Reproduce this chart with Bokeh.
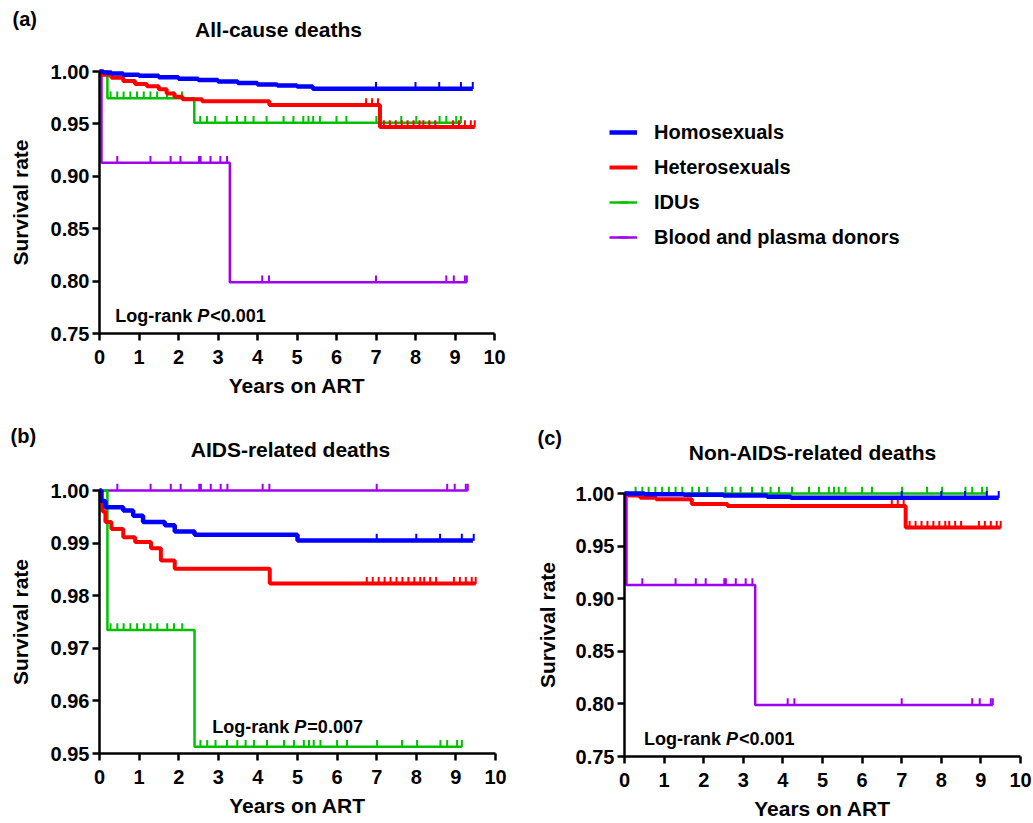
import numpy as np
from bokeh.plotting import figure
from bokeh.layouts import column, row
from bokeh.models import Range1d, FixedTicker, NumeralTickFormatter, Label, Legend, LegendItem
from bokeh.embed import file_html
from bokeh.resources import INLINE

FONT = "Liberation Sans"

groups = ["Homosexuals", "Heterosexuals", "IDUs", "Blood and plasma donors"]
colors = ["#0000FF", "#FF0000", "#00C000", "#A000F0"]
x_ticks = [0, 1, 2, 3, 4, 5, 6, 7, 8, 9, 10]
y_ticks_wide = [0.75, 0.80, 0.85, 0.90, 0.95, 1.00]
y_ticks_narrow = [0.95, 0.96, 0.97, 0.98, 0.99, 1.00]

# ---- (a) All-cause deaths: step times (years) / survival after each step
a_homo_t = [0, 0.1, 0.3, 0.6, 1.0, 1.5, 2.0, 2.5, 3.0, 3.5, 4.0, 4.5, 5.0, 5.4, 9.45]
a_homo_s = [1.0, 0.999, 0.998, 0.997, 0.996, 0.9945, 0.993, 0.992, 0.9905, 0.989, 0.9876, 0.9866, 0.9857, 0.9835, 0.9835]
a_hetero_t = [0, 0.05, 0.3, 0.6, 0.9, 1.2, 1.5, 1.7, 1.9, 2.1, 2.6, 4.3, 7.1, 9.5]
a_hetero_s = [1.0, 0.997, 0.994, 0.991, 0.988, 0.986, 0.983, 0.979, 0.976, 0.9735, 0.9715, 0.968, 0.947, 0.947]
a_idu_t = [0, 0.2, 2.4, 9.15]
a_idu_s = [1.0, 0.9745, 0.9512, 0.9512]
a_blood_t = [0, 0.05, 3.3, 9.3]
a_blood_s = [1.0, 0.913, 0.799, 0.799]

# ---- (b) AIDS-related deaths
b_homo_t = [0, 0.05, 0.15, 0.6, 0.85, 1.1, 1.65, 1.9, 2.4, 5.0, 9.43]
b_homo_s = [1.0, 0.998, 0.9968, 0.9962, 0.9952, 0.994, 0.9934, 0.9922, 0.9916, 0.9905, 0.9905]
b_hetero_t = [0, 0.03, 0.08, 0.15, 0.3, 0.6, 0.9, 1.3, 1.55, 1.9, 4.3, 9.5]
b_hetero_s = [1.0, 0.998, 0.996, 0.994, 0.9927, 0.9911, 0.9902, 0.989, 0.9867, 0.9851, 0.9823, 0.9823]
b_idu_t = [0, 0.2, 2.4, 9.15]
b_idu_s = [1.0, 0.9735, 0.9513, 0.9513]
b_blood_t = [0, 9.3]
b_blood_s = [1.0, 1.0]

# ---- (c) Non-AIDS-related deaths
c_homo_t = [0, 0.5, 1.5, 2.5, 3.6, 4.2, 9.45]
c_homo_s = [1.0, 0.9993, 0.9987, 0.998, 0.997, 0.996, 0.996]
c_hetero_t = [0, 0.1, 0.4, 0.8, 1.7, 2.6, 7.1, 9.5]
c_hetero_s = [1.0, 0.998, 0.996, 0.9945, 0.990, 0.988, 0.9676, 0.9676]
c_idu_t = [0, 9.15]
c_idu_s = [1.0, 1.0]
c_blood_t = [0, 0.05, 3.3, 9.3]
c_blood_s = [1.0, 0.913, 0.799, 0.799]

# ---- censoring times (years), shared by the three panels
homo_cens = [7.0, 8.0, 8.6, 9.15, 9.45]
hetero_cens = [6.75, 6.9, 7.05, 7.2, 7.35, 7.5, 7.65, 7.8, 7.95, 8.1, 8.2, 8.35, 8.5,
               8.95, 9.1, 9.25, 9.4, 9.5]
idu_cens = [0.28, 0.45, 0.61, 0.78, 0.95, 1.12, 1.29, 1.46, 1.71, 1.88, 2.09, 2.55, 2.72,
            2.93, 3.22, 3.48, 3.69, 3.90, 4.23, 4.66, 4.91, 5.16, 5.29, 5.41, 5.58, 6.0,
            6.25, 7.01, 7.64, 8.02, 8.61, 8.78, 9.03, 9.15]
blood_cens = [0.45, 1.29, 1.8, 2.05, 2.52, 2.56, 2.81, 3.06, 3.23, 4.12, 4.29, 7.0,
              8.78, 8.97, 9.25, 9.3]

line_widths = [4.5, 4.0, 2.5, 2.5]
draw_order = [3, 2, 1, 0]


def levels_at(t, s, cens):
    idx = np.searchsorted(np.asarray(t), np.asarray(cens), side="right") - 1
    return np.asarray(s)[idx]


def make_panel(series, y0, yticks, W, H, x0_px, x10_px, ytop_px, ybot_px, ylab_standoff):
    # The frame covers the whole figure; axes sit at fixed data locations inside it,
    # so that titles, panel letters and the legend are never clipped.
    xs = (x10_px - x0_px) / 10.0
    ys = (ybot_px - ytop_px) / (1.0 - y0)
    x_rng = Range1d(-x0_px / xs, (W - x0_px) / xs)
    y_rng = Range1d(y0 - (H - ybot_px) / ys, 1.0 + ytop_px / ys)
    p = figure(frame_width=W, frame_height=H, min_border=0,
               min_border_left=0, min_border_right=0, min_border_top=0, min_border_bottom=0,
               x_range=x_rng, y_range=y_rng,
               output_backend="svg", toolbar_location=None)
    p.outline_line_color = None
    p.xgrid.visible = False
    p.ygrid.visible = False
    p.background_fill_color = "white"
    p.border_fill_color = "white"

    for ax in (p.xaxis[0], p.yaxis[0]):
        ax.axis_line_width = 2.5
        ax.axis_line_color = "black"
        ax.major_tick_line_width = 2.5
        ax.major_tick_line_color = "black"
        ax.major_tick_out = 7
        ax.major_tick_in = 0
        ax.minor_tick_line_color = None
        ax.major_label_text_font = FONT
        ax.major_label_text_font_style = "bold"
        ax.major_label_text_font_size = "20px"
        ax.major_label_text_color = "black"
        ax.axis_label_text_font = FONT
        ax.axis_label_text_font_style = "bold"
        ax.axis_label_text_font_size = "21px"
        ax.axis_label_text_color = "black"

    p.xaxis.fixed_location = y0
    p.xaxis.ticker = FixedTicker(ticks=x_ticks)
    p.xaxis.bounds = (0, 10)
    p.xaxis.axis_label = "Years on ART"
    p.xaxis.major_label_standoff = 9
    p.xaxis.axis_label_standoff = 7

    p.yaxis.fixed_location = 0
    p.yaxis.ticker = FixedTicker(ticks=yticks)
    p.yaxis.formatter = NumeralTickFormatter(format="0.00")
    p.yaxis.bounds = (y0, 1.0)
    p.yaxis.axis_label = "Survival rate"
    p.yaxis.major_label_standoff = 3
    p.yaxis.axis_label_standoff = ylab_standoff

    dy = 3.2 / ys
    renderers = {}
    for i in draw_order:
        t, s, cens = series[i]
        r_line = p.step(t, s, mode="after", line_color=colors[i], line_width=line_widths[i])
        lv = levels_at(t, s, cens)
        r_c = p.scatter(cens, lv + dy, marker="dash", angle=np.pi / 2, size=7,
                        line_color=colors[i], line_width=2, fill_color=colors[i])
        renderers[i] = (r_line, r_c)
    return p, renderers


def add_text(p, text, x, y, dx, dy, size="20px", align="left", style="bold"):
    p.add_layout(Label(x=x, y=y, x_offset=dx, y_offset=dy, text=text,
                       text_font=FONT, text_font_style=style, text_font_size=size,
                       text_color="black", text_align=align, text_baseline="middle"))


def add_logrank(p, x, y, tail):
    add_text(p, "Log-rank", x, y, 0, 0, size="18px")
    add_text(p, "P", x, y, 82, 0, size="18px", style="bold italic")
    add_text(p, tail, x, y, 95, 0, size="18px")


# ---------------- panel (a)
series_a = [(a_homo_t, a_homo_s, homo_cens), (a_hetero_t, a_hetero_s, hetero_cens),
            (a_idu_t, a_idu_s, idu_cens), (a_blood_t, a_blood_s, blood_cens)]
pa, rend_a = make_panel(series_a, 0.75, y_ticks_wide, 1032, 404, 99, 494, 71, 333, 16)
add_text(pa, "(a)", 0, 1.0, -87, 53, size="20px")
add_text(pa, "All-cause deaths", 0, 1.0, 179, 42, size="21px", align="center")
add_logrank(pa, 0.4, 0.767, "<0.001")

legend = Legend(items=[LegendItem(label=groups[i], renderers=list(rend_a[i])) for i in range(4)],
                location=(609, 155), orientation="vertical",
                glyph_width=28, glyph_height=24, label_height=24, label_width=20,
                spacing=11, padding=0, margin=0, label_standoff=17,
                border_line_color=None, background_fill_alpha=0,
                label_text_font=FONT, label_text_font_style="bold",
                label_text_font_size="20px", label_text_color="black")
pa.add_layout(legend)

# ---------------- panel (b)
series_b = [(b_homo_t, b_homo_s, homo_cens), (b_hetero_t, b_hetero_s, hetero_cens),
            (b_idu_t, b_idu_s, idu_cens), (b_blood_t, b_blood_s, blood_cens)]
pb, _ = make_panel(series_b, 0.95, y_ticks_narrow, 520, 418, 99, 495, 86, 349, 16)
add_text(pb, "(b)", 0, 1.0, -89, 55, size="20px")
add_text(pb, "AIDS-related deaths", 0, 1.0, 191, 41, size="21px", align="center")
add_logrank(pb, 2.85, 0.955, "=0.007")

# ---------------- panel (c)
series_c = [(c_homo_t, c_homo_s, homo_cens), (c_hetero_t, c_hetero_s, hetero_cens),
            (c_idu_t, c_idu_s, idu_cens), (c_blood_t, c_blood_s, blood_cens)]
pc, _ = make_panel(series_c, 0.75, y_ticks_wide, 512, 418, 104, 500, 89, 352, 14)
add_text(pc, "(c)", 0, 1.0, -87, 56, size="20px")
add_text(pc, "Non-AIDS-related deaths", 0, 1.0, 188, 41, size="21px", align="center")
add_logrank(pc, 0.49, 0.767, "<0.001")

layout = column(pa, row(pb, pc, spacing=0), spacing=0)
open("out.html", "w").write(file_html(layout, INLINE))
